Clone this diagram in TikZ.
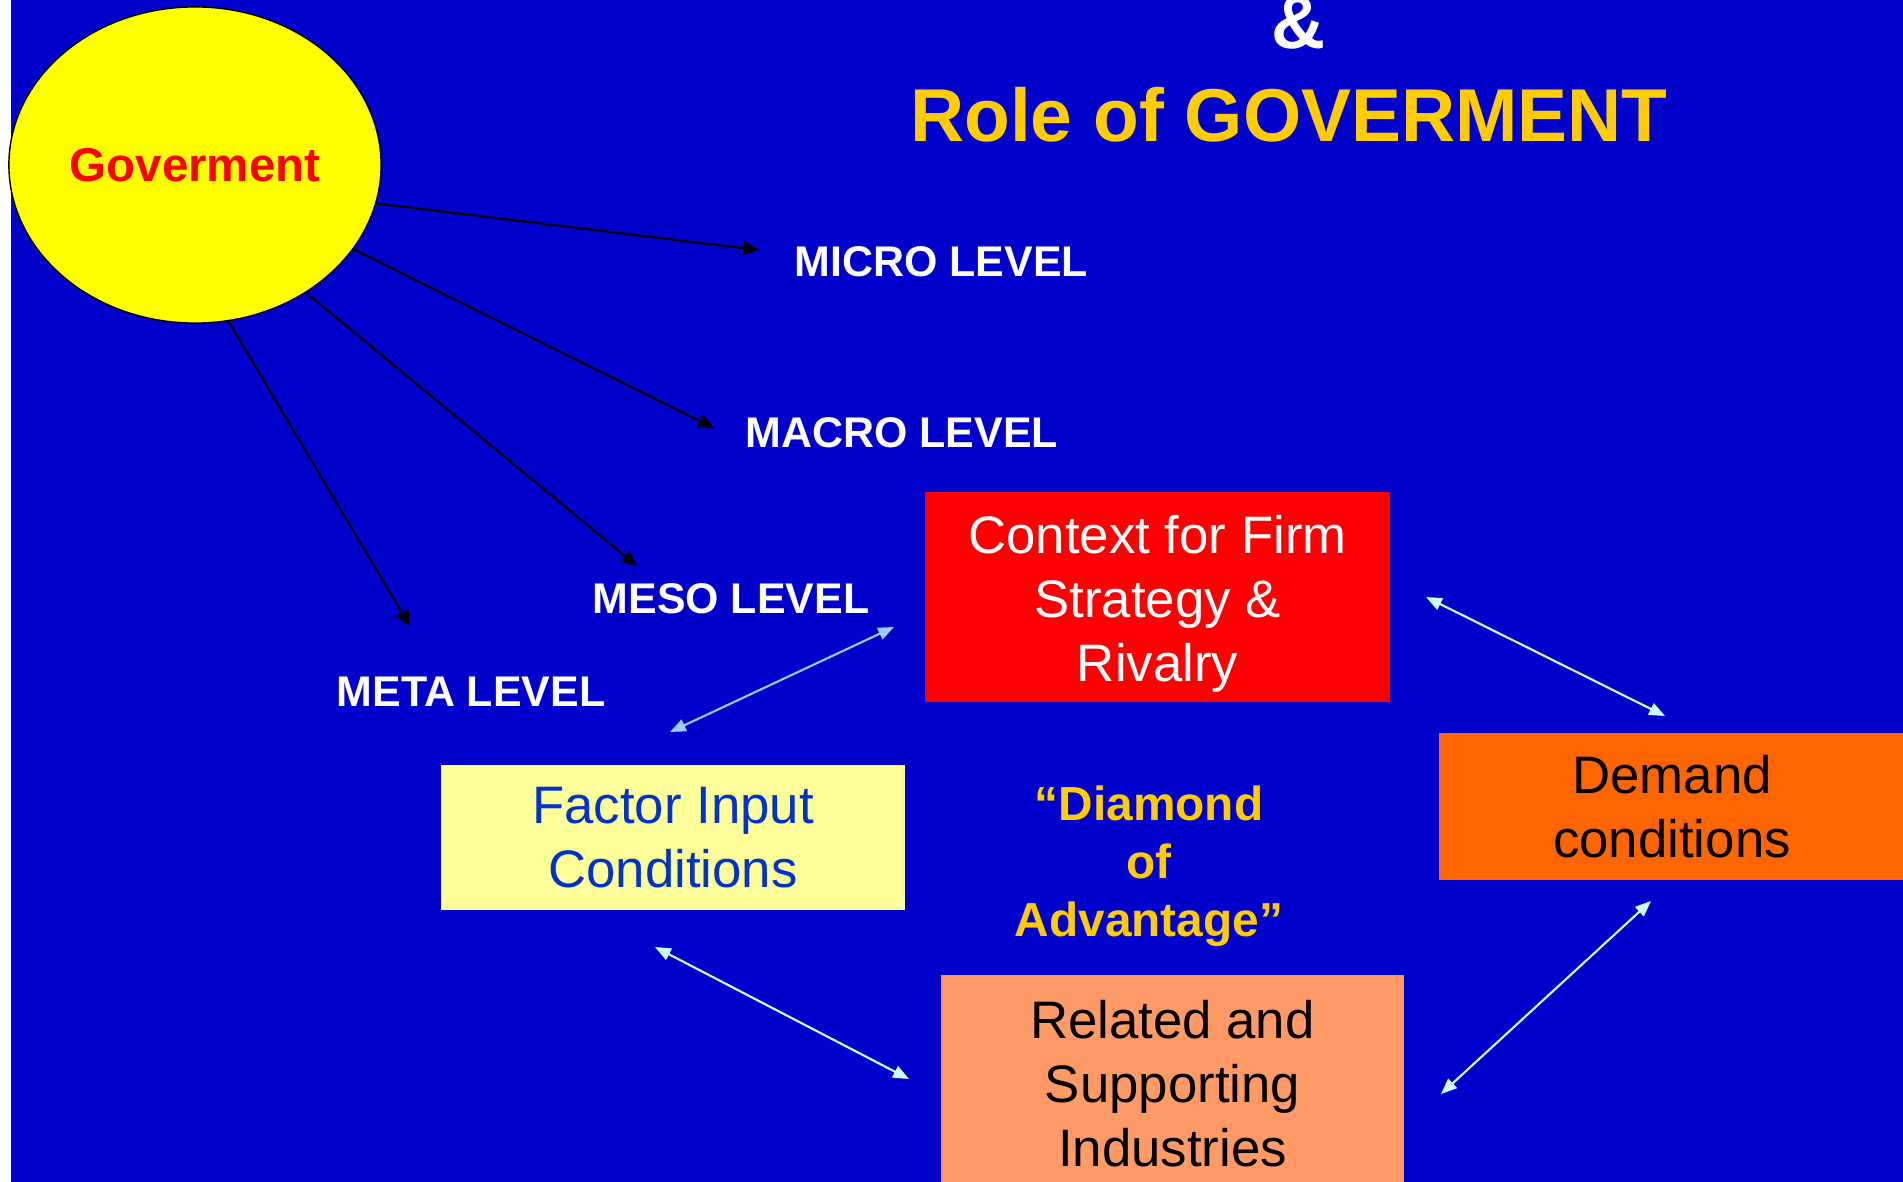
\documentclass[tikz,border=0pt]{standalone}
\usepackage{fontspec}
\setmainfont{Liberation Sans}
\usetikzlibrary{shapes,arrows.meta,positioning}
\definecolor{slideblue}{RGB}{0,0,204}
\definecolor{govyellow}{RGB}{255,255,0}
\definecolor{titleyellow}{RGB}{255,204,0}
\definecolor{factorfill}{RGB}{255,255,153}
\definecolor{factortext}{RGB}{0,51,204}
\definecolor{demandorange}{RGB}{255,102,0}
\definecolor{relatedfill}{RGB}{255,153,102}
\definecolor{linkblue}{RGB}{153,204,255}
\definecolor{linkcyan}{RGB}{204,255,255}

\tikzset{
  level/.style={anchor=base west, text=white, font=\fontsize{12.2}{14}\selectfont\bfseries, inner sep=0pt},
  box/.style={align=center, inner sep=0pt, outer sep=0pt, font=\fontsize{15}{18.2}\selectfont},
  govarrow/.style={-{Triangle[length=4.5pt,width=4pt]}, line width=0.6pt, black},
  link/.style={{Triangle[length=4.5pt,width=3.6pt]}-{Triangle[length=4.5pt,width=3.6pt]}, line width=0.6pt}
}

\begin{document}
\begin{tikzpicture}[x=0.01cm, y=-0.01cm]
\useasboundingbox (0,0) rectangle (1903,1182);
\clip (0,0) rectangle (1903,1182);
\fill[white] (0,0) rectangle (1903,1182);
\fill[slideblue] (11,0) rectangle (1903,1182);

% Title
\node[anchor=base, text=white, font=\fontsize{21.3}{25}\selectfont\bfseries, inner sep=0pt] (amp) at (1299,49) {\&};
\node[anchor=base, text=titleyellow, font=\fontsize{21.3}{25}\selectfont\bfseries, inner sep=0pt] (title) at (1289,142) {Role of GOVERMENT};

% Government and its levels
\node[ellipse, draw=black, fill=govyellow, minimum width=3.72cm, minimum height=3.16cm, inner sep=0pt, outer sep=0pt,
      text=red, font=\fontsize{13.5}{16}\selectfont\bfseries] (gov) at (195,165) {Goverment};

\node[level] (micro) at (794,277) {MICRO LEVEL};
\node[level] (macro) at (745,447) {MACRO LEVEL};
\node[level] (meso) at (592,613) {MESO LEVEL};
\node[level] (meta) at (336,706) {META LEVEL};

\coordinate (microtip) at (759,250);
\coordinate (macrotip) at (714,428);
\coordinate (mesotip) at (637,566);
\coordinate (metatip) at (410,626);

\draw[govarrow] (gov.-12) -- (microtip);
\draw[govarrow] (gov.-28.6) -- (macrotip);
\draw[govarrow] (gov.-49.8) -- (mesotip);
\draw[govarrow] (gov.-78) -- (metatip);

% Diamond boxes
\node[box, fill=red, text=white, minimum width=4.65cm, minimum height=2.10cm] (context) at (1157.5,597) {\rule{0pt}{15pt}Context for Firm\\Strategy \&\\Rivalry};
\node[box, fill=factorfill, text=factortext, minimum width=4.64cm, minimum height=1.45cm] (factor) at (673,837.5) {Factor Input\\Conditions};
\node[box, fill=demandorange, text=black, minimum width=4.66cm, minimum height=1.47cm] (demand) at (1672,806.5) {Demand\\conditions};
\node[box, fill=relatedfill, text=black, minimum width=4.63cm, minimum height=2.18cm] (related) at (1172.5,1084) {Related and\\Supporting\\Industries};

\node[align=center, text=titleyellow, font=\fontsize{13.6}{16.5}\selectfont\bfseries, inner sep=0pt] (diamond) at (1149,866) {``Diamond\\of\\Advantage''};

% Links between the boxes
\coordinate (fc1) at (670,732);
\coordinate (fc2) at (894,627);
\coordinate (cd1) at (1426,597);
\coordinate (cd2) at (1665,716);
\coordinate (fr1) at (655,947);
\coordinate (fr2) at (909,1079);
\coordinate (rd1) at (1441,1094);
\coordinate (rd2) at (1651,901);

\draw[link, linkblue] (fc1) -- (fc2);
\draw[link, linkcyan] (cd1) -- (cd2);
\draw[link, linkcyan] (fr1) -- (fr2);
\draw[link, linkcyan] (rd1) -- (rd2);
\end{tikzpicture}
\end{document}
